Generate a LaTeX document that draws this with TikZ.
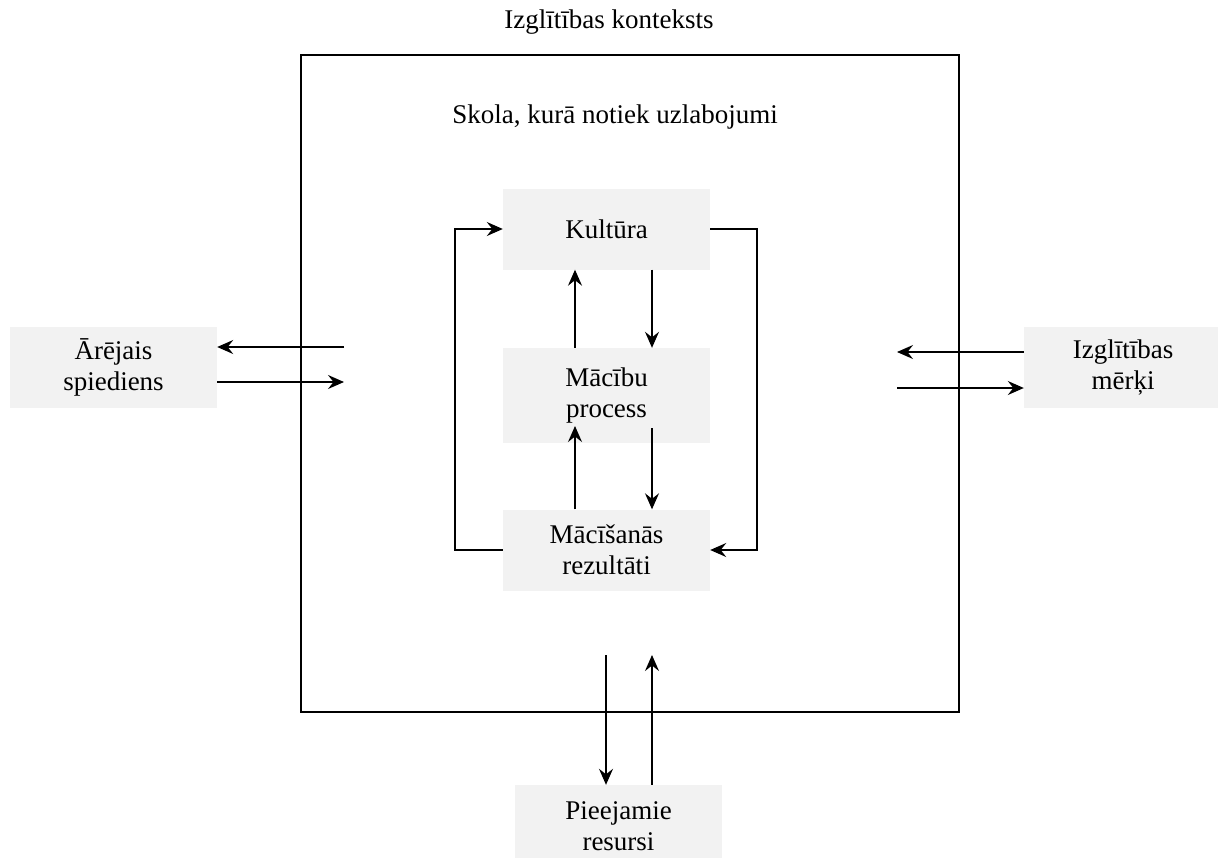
\documentclass[tikz,border=0pt]{standalone}
\usepackage{fontspec}
\setmainfont{Liberation Serif}
\usetikzlibrary{arrows.meta}
\definecolor{boxgray}{RGB}{242,242,242}
\begin{document}
\begin{tikzpicture}[x=1pt,y=-1pt,
  label/.style={font=\fontsize{27}{31}\selectfont, inner sep=0pt},
  box/.style={fill=boxgray, minimum width=207pt, minimum height=81pt,
    align=center, inner sep=0pt, font=\fontsize{27}{31}\selectfont},
  arr/.style={draw, line width=1.3pt, -{Stealth[length=16pt,width=14pt,inset=5.5pt]}}]
\useasboundingbox (0,0) rectangle (1218,857);

% school frame
\node[draw, line width=1.3pt, minimum width=658pt, minimum height=657pt, inner sep=0pt] (school) at (630,383.5) {};
\node[label] (ctx) at (609,22) {Izglītības konteksts};
\node[label] (skola) at (615,117) {Skola, kurā notiek uzlabojumi};

% inner cycle
\node[box] (kult) at (606.5,229) {Kultūra};
\node[box, minimum height=95pt] (proc) at (606.5,395.5) {Mācību\\process};
\node[box] (rez) at (606.5,550) {Mācīšanās\\rezultāti};

% outside factors
\node[box] (ext) at (113.5,367.5) {Ārējais\\spiediens};
\node[box, minimum width=198pt] (goal) at (1123,367.5) {Izglītības\\mērķi};
\node[box, minimum height=82pt] (res) at (618.5,826) {Pieejamie\\resursi};

% helper coordinates
\coordinate (lloop) at (455,0);
\coordinate (rloop) at (757,0);
\coordinate (ux) at (575,0);
\coordinate (dx) at (652,0);
\coordinate (u2end) at (575,426);
\coordinate (d2start) at (652,428);
\coordinate (extin) at (344,347);
\coordinate (extout) at (344,382);
\coordinate (goalin) at (897,352);
\coordinate (goalout) at (897,388);
\coordinate (resdown) at (606,655);
\coordinate (resup) at (652,655);

% feedback loops
\draw[arr] (rez.west) -- (rez.west -| lloop) |- (kult.west);
\draw[arr] (kult.east) -- (kult.east -| rloop) |- (rez.east);

% vertical links
\draw[arr] (proc.north -| ux) -- (kult.south -| ux);
\draw[arr] (kult.south -| dx) -- (proc.north -| dx);
\draw[arr] (rez.north -| ux) -- (u2end);
\draw[arr] (d2start) -- (rez.north -| dx);

% exchanges with the surroundings
\draw[arr] (extin) -- (extin -| ext.east);
\draw[arr] (extout -| ext.east) -- (extout);
\draw[arr] (goalin -| goal.west) -- (goalin);
\draw[arr] (goalout) -- (goalout -| goal.west);
\draw[arr] (resdown) -- (resdown |- res.north);
\draw[arr] (resup |- res.north) -- (resup);
\end{tikzpicture}
\end{document}
